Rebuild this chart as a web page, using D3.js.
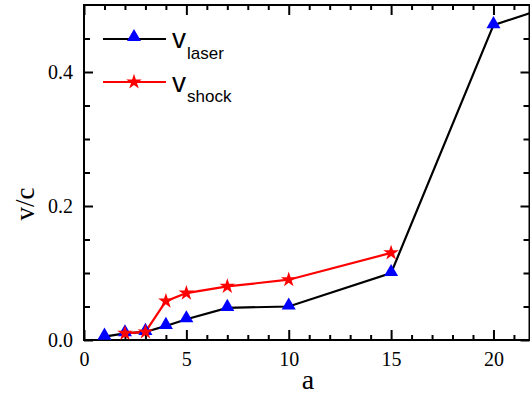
<!DOCTYPE html>
<html><head><meta charset="utf-8">
<script src="https://cdn.jsdelivr.net/npm/d3@7"></script>
<style>
body{margin:0;background:#fff}
svg text{font-family:"Liberation Serif";}
svg text.sans{font-family:"Liberation Sans";}
</style>
</head><body>
<svg id="c" width="530" height="396" font-family="Liberation Serif"></svg>
<script>
const laserA = [1, 2, 3, 4, 5, 7, 10, 15, 20, 25];
const laserV = [0.005, 0.010, 0.012, 0.021, 0.031, 0.048, 0.050, 0.100, 0.470, 0.520];
const shockA = [2, 3, 4, 5, 7, 10, 15];
const shockV = [0.010, 0.012, 0.058, 0.070, 0.080, 0.090, 0.130];
const xTickLabels = [0, 5, 10, 15, 20];
const yTickLabels = [0.0, 0.2, 0.4];

const svg = d3.select("#c");
const L = 84, R = 529.5, T = 5, B = 340;
const x = d3.scaleLinear().domain([0, 21.76]).range([L, R]);
const y = d3.scaleLinear().domain([0, 0.5]).range([B, T]);

svg.append("defs").append("clipPath").attr("id","plotclip")
  .append("rect").attr("x",L).attr("y",T).attr("width",R-L).attr("height",B-T);

const SERIF = "Liberation Serif";
const SANS = "Liberation Sans";

const xMinor = d3.range(0, 22, 1).filter(v => v % 5 !== 0);
const yMinor = [0.05,0.1,0.15,0.25,0.3,0.35,0.45];

function styleAxis(g){
  g.attr("font-family", SERIF).attr("font-size", null);
  g.select(".domain").remove();
  g.selectAll("line").attr("stroke","#000").attr("stroke-width",2);
}

// bottom
svg.append("g").attr("transform",`translate(0,${B})`)
  .call(d3.axisBottom(x).tickValues(xTickLabels).tickSize(-10).tickFormat(d3.format("d")).tickPadding(8))
  .call(styleAxis)
  .call(g => g.selectAll("text").style("font-family",SERIF).attr("font-size",20).attr("fill","#000").attr("dy","0.9em"));
svg.append("g").attr("transform",`translate(0,${B})`)
  .call(d3.axisBottom(x).tickValues(xMinor).tickSize(-5).tickFormat(""))
  .call(styleAxis);
// top
svg.append("g").attr("transform",`translate(0,${T})`)
  .call(d3.axisTop(x).tickValues(xTickLabels).tickSize(-10).tickFormat(""))
  .call(styleAxis);
svg.append("g").attr("transform",`translate(0,${T})`)
  .call(d3.axisTop(x).tickValues(xMinor).tickSize(-5).tickFormat(""))
  .call(styleAxis);
// left
svg.append("g").attr("transform",`translate(${L},0)`)
  .call(d3.axisLeft(y).tickValues(yTickLabels).tickSize(-9).tickFormat(d3.format(".1f")).tickPadding(11))
  .call(styleAxis)
  .call(g => g.selectAll("text").style("font-family",SERIF).attr("font-size",20).attr("fill","#000").attr("dy","0.3em"));
svg.append("g").attr("transform",`translate(${L},0)`)
  .call(d3.axisLeft(y).tickValues(yMinor).tickSize(-6).tickFormat(""))
  .call(styleAxis);
// right
svg.append("g").attr("transform",`translate(${R},0)`)
  .call(d3.axisRight(y).tickValues(yTickLabels).tickSize(-9).tickFormat(""))
  .call(styleAxis);
svg.append("g").attr("transform",`translate(${R},0)`)
  .call(d3.axisRight(y).tickValues(yMinor).tickSize(-6).tickFormat(""))
  .call(styleAxis);

// frame
svg.append("rect").attr("x",L).attr("y",T).attr("width",R-L).attr("height",B-T)
  .attr("fill","none").attr("stroke","#000").attr("stroke-width",2);

const plot = svg.append("g").attr("clip-path","url(#plotclip)");
const line = d3.line().x(d=>x(d[0])).y(d=>y(d[1]));
const laser = laserA.map((a,i)=>[a,laserV[i]]);
const shock = shockA.map((a,i)=>[a,shockV[i]]);

plot.append("path").datum(laser).attr("d",line).attr("fill","none").attr("stroke","#000").attr("stroke-width",2.2);
plot.append("path").datum(shock).attr("d",line).attr("fill","none").attr("stroke","#f00").attr("stroke-width",2.2);

const tri = d3.symbol().type(d3.symbolTriangle).size(85);
const star = d3.symbol().type(d3.symbolStar).size(75);
plot.selectAll(".tri").data(laser).join("path").attr("d",tri)
  .attr("transform",d=>`translate(${x(d[0])},${y(d[1])-1})`).attr("fill","#0000ff");
plot.selectAll(".star").data(shock).join("path").attr("d",star)
  .attr("transform",d=>`translate(${x(d[0])},${y(d[1])})`).attr("fill","#ff0000");

// legend
const lg = svg.append("g");
lg.append("line").attr("x1",103).attr("x2",166).attr("y1",39).attr("y2",39).attr("stroke","#000").attr("stroke-width",2.2);
lg.append("path").attr("d",tri).attr("transform","translate(134,37)").attr("fill","#0000ff");
lg.append("line").attr("x1",103).attr("x2",166).attr("y1",82).attr("y2",82).attr("stroke","#f00").attr("stroke-width",2.2);
lg.append("path").attr("d",star).attr("transform","translate(134,82)").attr("fill","#ff0000");
const t1 = lg.append("text").attr("class","sans").style("font-family",SANS).attr("x",172).attr("y",48).attr("font-size",28);
t1.append("tspan").text("v");
t1.append("tspan").attr("font-size",17).attr("dx",1).attr("dy",11).text("laser");
const t2 = lg.append("text").attr("class","sans").style("font-family",SANS).attr("x",172).attr("y",92).attr("font-size",28);
t2.append("tspan").text("v");
t2.append("tspan").attr("font-size",17).attr("dx",1).attr("dy",10).text("shock");

// axis titles
svg.append("text").style("font-family",SERIF).attr("x",308).attr("y",389).attr("text-anchor","middle")
  .attr("font-size",28).text("a");
svg.append("text").style("font-family",SERIF).attr("transform","translate(34,204) rotate(-90)").attr("text-anchor","middle")
  .attr("font-size",27).text("v/c");
</script>
</body></html>
